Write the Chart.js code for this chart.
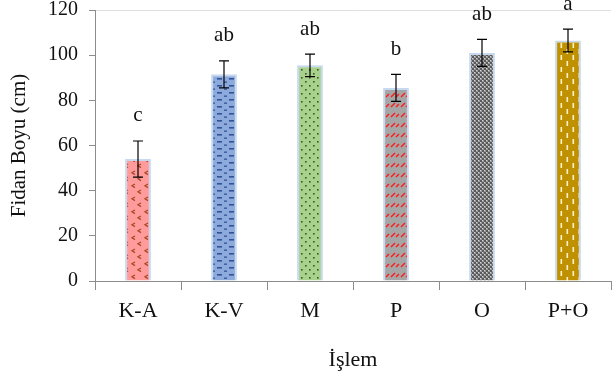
<!DOCTYPE html>
<html>
<head>
<meta charset="utf-8">
<script src="https://cdn.jsdelivr.net/npm/chart.js@4"></script>
<style>
  html, body { margin: 0; padding: 0; background: #fff; }
  #wrap { width: 614px; height: 382px; }
</style>
</head>
<body>
<div id="wrap"><canvas id="chart"></canvas></div>
<script>
// ---- data ----
const categories = ["K-A", "K-V", "M", "P", "O", "P+O"];
const means = [54, 91.5, 95.5, 85.5, 101, 106.5];
const errors = [8, 6, 5, 6, 6, 5];
const groups = ["c", "ab", "ab", "b", "ab", "a"];

// ---- pattern fills ----
function makePattern(w, h, base, draw) {
    const c = document.createElement("canvas");
    c.width = w; c.height = h;
    const g = c.getContext("2d");
    g.fillStyle = base;
    g.fillRect(0, 0, w, h);
    draw(g);
    return document.getElementById("chart").getContext("2d").createPattern(c, "repeat");
}

const fills = [
    makePattern(13, 13, "#ff9b9b", g => {
        g.strokeStyle = "#a84a28"; g.lineWidth = 1.3;
        [[2, 2], [8, 8]].forEach(([x, y]) => {
            g.beginPath(); g.moveTo(x + 3, y); g.lineTo(x, y + 1.8); g.lineTo(x + 3, y + 3.6); g.stroke();
        });
    }),
    makePattern(12, 7, "#8eaadc", g => {
        g.fillStyle = "#2f5597";
        g.fillRect(1, 1, 5, 1.6);
        g.fillRect(8, 4.5, 3, 1.3);
    }),
    makePattern(8, 8, "#a9d18e", g => {
        g.fillStyle = "#3a5a25";
        g.fillRect(1, 1, 1.6, 1.6);
        g.fillRect(5, 5, 1.6, 1.6);
    }),
    makePattern(10, 10, "#a6a6a6", g => {
        g.strokeStyle = "#ff1a1a"; g.lineWidth = 1.4;
        g.beginPath(); g.moveTo(1, 7); g.lineTo(5, 3); g.stroke();
        g.beginPath(); g.moveTo(6, 7); g.lineTo(9, 4); g.stroke();
    }),
    makePattern(4, 4, "#9a9a9a", g => {
        g.fillStyle = "#5a5a5a";
        g.fillRect(0, 0, 2, 2); g.fillRect(2, 2, 2, 2);
        g.fillStyle = "#d4d4d4";
        g.fillRect(2, 0, 1, 1); g.fillRect(0, 2, 1, 1);
    }),
    makePattern(12, 12, "#bf9000", g => {
        g.fillStyle = "#fff2c6";
        g.fillRect(2.5, 1, 1.6, 5);
        g.fillRect(8.5, 7, 1.6, 5);
    })
];

// ---- error bars + group letters ----
const errorBarPlugin = {
    id: "errorBars",
    afterDatasetsDraw(chart) {
        const ctx = chart.ctx;
        const meta = chart.getDatasetMeta(0);
        const y = chart.scales.y;
        ctx.save();
        meta.data.forEach((bar, i) => {
            const x = bar.x;
            const top = y.getPixelForValue(means[i] + errors[i]);
            const bot = y.getPixelForValue(means[i] - errors[i]);
            ctx.strokeStyle = "#000";
            ctx.lineWidth = 1.2;
            ctx.beginPath();
            ctx.moveTo(x, top); ctx.lineTo(x, bot);
            ctx.moveTo(x - 5, top); ctx.lineTo(x + 5, top);
            ctx.moveTo(x - 5, bot); ctx.lineTo(x + 5, bot);
            ctx.stroke();

            ctx.fillStyle = "#111";
            ctx.font = "21px 'Liberation Serif'";
            ctx.textAlign = "center";
            ctx.textBaseline = "middle";
            ctx.fillText(groups[i], x, top - 25);
        });
        ctx.restore();
    }
};

new Chart(document.getElementById("chart"), {
    type: "bar",
    data: {
        labels: categories,
        datasets: [{
            data: means,
            backgroundColor: fills,
            borderColor: "#c6d9f0",
            borderWidth: 2,
            barPercentage: 0.3,
            categoryPercentage: 1
        }]
    },
    options: {
        responsive: true,
        maintainAspectRatio: false,
        animation: false,
        layout: { padding: { top: 0, right: 3, left: 0, bottom: 0 } },
        plugins: {
            legend: { display: false },
            tooltip: { enabled: false }
        },
        scales: {
            x: {
                offset: true,
                grid: {
                    offset: true,
                    drawOnChartArea: false,
                    tickLength: 9,
                    color: "#8c8c8c"
                },
                border: { color: "#8c8c8c", width: 1 },
                ticks: {
                    color: "#111",
                    font: { family: "Liberation Serif", size: 22 },
                    padding: 8
                },
                title: {
                    display: true,
                    text: "İşlem",
                    color: "#111",
                    font: { family: "Liberation Serif", size: 22 },
                    padding: { top: 10, bottom: 9 }
                },
                afterFit: s => { s.height = 101; }
            },
            y: {
                min: 0,
                max: 120,
                ticks: {
                    stepSize: 20,
                    color: "#111",
                    font: { family: "Liberation Serif", size: 20 },
                    padding: 11
                },
                grid: {
                    color: c => c.tick && c.tick.value === 120 ? "#e0e0e0" : "rgba(0,0,0,0)",
                    tickColor: "#8c8c8c",
                    tickLength: 6
                },
                border: { color: "#8c8c8c", width: 1 },
                title: {
                    display: true,
                    text: "Fidan Boyu (cm)",
                    color: "#111",
                    font: { family: "Liberation Serif", size: 21 },
                    padding: { top: 7, bottom: 4 }
                },
                afterFit: s => { s.width = 95; s.paddingTop = 10; s.paddingBottom = 0; }
            }
        }
    },
    plugins: [errorBarPlugin]
});
</script>
</body>
</html>
